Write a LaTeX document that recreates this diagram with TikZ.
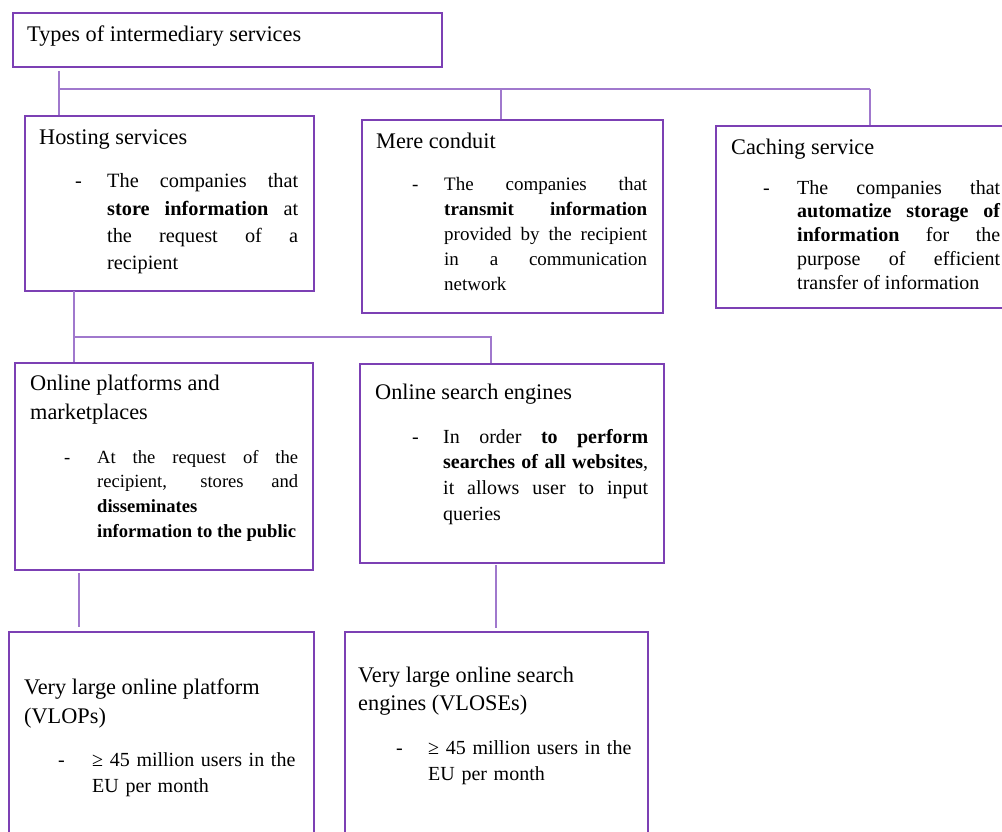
\documentclass[tikz,border=0pt]{standalone}
\usepackage{fontspec}
\setmainfont{Liberation Serif}
\newcommand\fsz[2]{\fontsize{#1}{#2}\selectfont}
\definecolor{boxc}{RGB}{124,64,180}
\definecolor{linec}{RGB}{160,120,205}
\tikzset{
  box/.style={draw=boxc, line width=1.6pt, rectangle, inner sep=0pt, anchor=north west},
  conn/.style={draw=linec, line width=1.1pt},
  head/.style={anchor=base west, inner sep=0pt, font=\fsz{22.3}{28.5}, align=left},
  body/.style={anchor=base west, inner sep=0pt, align=justify, execute at begin node={\hyphenpenalty=10000\exhyphenpenalty=10000}},
  dashmark/.style={anchor=base west, inner sep=0pt},
}
\begin{document}
\begin{tikzpicture}[x=1pt,y=-1pt]
\useasboundingbox (0,0) rectangle (1002,832);

% boxes
\node[box, minimum width=429pt, minimum height=54pt] (types) at (12,12) {};
\node[box, minimum width=289pt, minimum height=175pt] (hosting) at (24,115) {};
\node[box, minimum width=301pt, minimum height=193pt] (mere) at (361,119) {};
\node[box, minimum width=300pt, minimum height=182pt] (caching) at (715,125) {};
\node[box, minimum width=298pt, minimum height=207pt] (op) at (14,362) {};
\node[box, minimum width=304pt, minimum height=199pt] (ose) at (359,363) {};
\node[box, minimum width=305pt, minimum height=215pt] (vlop) at (8,631) {};
\node[box, minimum width=303pt, minimum height=215pt] (vlose) at (344,631) {};

% texts (multi-line headings are placed by the baseline of their last line)
\node[head] (types-t) at (27,42) {Types of intermediary services};

\node[head] (hosting-h) at (39,145) {Hosting services};
\node[dashmark, font=\fsz{20.3}{27.3}] (hosting-d) at (75,188) {-};
\node[body, text width=191pt, font=\fsz{20.3}{27.3}] (hosting-t) at (107,188)
  {The companies that\linebreak \textbf{store information} at\linebreak the request of a\linebreak recipient};

\node[head] (mere-h) at (376,149) {Mere conduit};
\node[dashmark, font=\fsz{19}{24.8}] (mere-d) at (412,191) {-};
\node[body, text width=203pt, font=\fsz{19}{24.8}] (mere-t) at (444,191)
  {The companies that\linebreak \textbf{transmit information}\linebreak provided by the recipient\linebreak in a communication\linebreak network};

\node[head] (caching-h) at (731,155) {Caching service};
\node[dashmark, font=\fsz{20}{23.8}] (caching-d) at (763,194) {-};
\node[body, text width=203pt, font=\fsz{20}{23.8}] (caching-t) at (797,194)
  {The companies that\linebreak \textbf{automatize storage of}\linebreak \textbf{information} for the\linebreak purpose of efficient\linebreak transfer of information};

\node[head] (op-h) at (30,419) {Online platforms and\\marketplaces};
\node[dashmark, font=\fsz{18.6}{24.7}] (op-d) at (64,463) {-};
\node[body, text width=201pt, font=\fsz{18.6}{24.7}] (op-t) at (97,463)
  {At the request of the\linebreak recipient, stores and\linebreak \textbf{disseminates}\\ \textbf{information to the public}};

\node[head] (ose-h) at (375,399) {Online search engines};
\node[dashmark, font=\fsz{20}{25.7}] (ose-d) at (412,443) {-};
\node[body, text width=205pt, font=\fsz{20}{25.7}] (ose-t) at (443,443)
  {In order \textbf{to perform}\linebreak \textbf{searches of all websites},\linebreak it allows user to input\linebreak queries};

\node[head, font=\fsz{22.3}{29}] (vlop-h) at (24,723) {Very large online platform\\(VLOPs)};
\node[dashmark, font=\fsz{20}{26}] (vlop-d) at (58,766) {-};
\node[body, align=left, text width=215pt, font=\fsz{20}{26}] (vlop-t) at (92,766)
  {≥ 45 million users in the\\EU per month};

\node[head, font=\fsz{22.3}{28}] (vlose-h) at (358,710) {Very large online search\\engines (VLOSEs)};
\node[dashmark, font=\fsz{20}{26}] (vlose-d) at (396,754) {-};
\node[body, align=left, text width=215pt, font=\fsz{20}{26}] (vlose-t) at (428,754)
  {≥ 45 million users in the\\EU per month};

% connectors
\coordinate (j0) at (59,71);
\coordinate (b1) at (59,89);
\coordinate (bm) at (501,89);
\coordinate (b2) at (870,89);
\draw[conn] (j0) -- (j0 |- hosting.north);
\draw[conn] (b1) -- (b2);
\draw[conn] (bm) -- (bm |- mere.north);
\draw[conn] (b2) -- (b2 |- caching.north);

\coordinate (h0) at (74,291);
\coordinate (h1) at (75,337);
\coordinate (h2) at (491,337);
\draw[conn] (h0) -- (h0 |- op.north);
\draw[conn] (h1) -- (h2) -- (h2 |- ose.north);

\coordinate (v1) at (79,573);
\coordinate (v1e) at (79,627);
\draw[conn] (v1) -- (v1e);
\coordinate (v2) at (496,565);
\coordinate (v2e) at (496,628);
\draw[conn] (v2) -- (v2e);
\end{tikzpicture}
\end{document}
